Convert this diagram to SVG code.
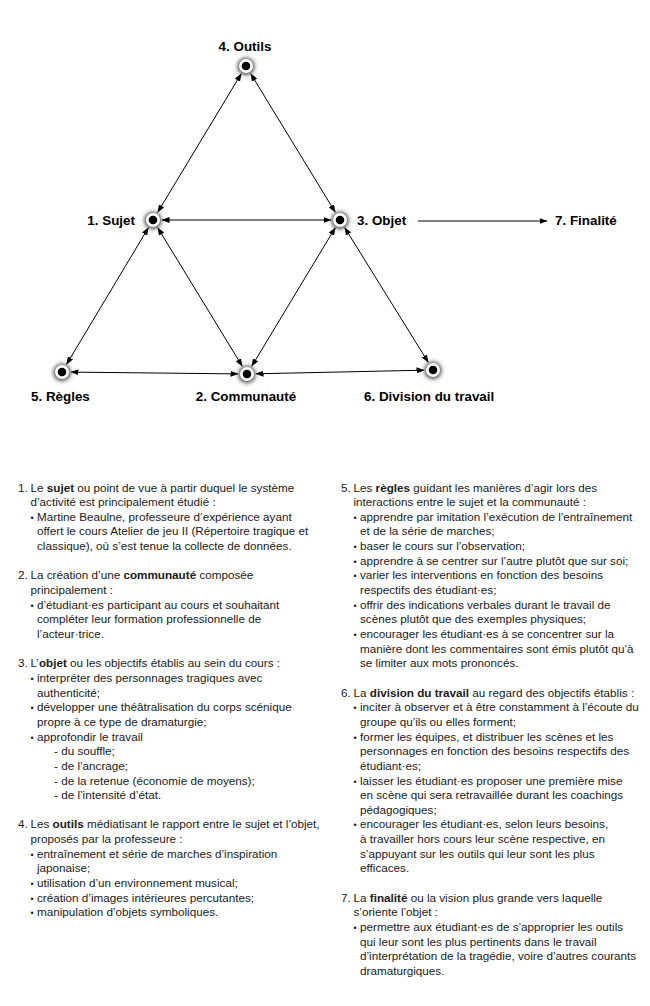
<svg xmlns="http://www.w3.org/2000/svg" width="650" height="1006" viewBox="0 0 650 1006">
<defs>
<filter id="blur" x="-1" y="-1" width="3" height="3">
<feGaussianBlur stdDeviation="2.3"/>
</filter>
<marker id="ah" markerUnits="userSpaceOnUse" markerWidth="8" markerHeight="6" refX="7.5" refY="3" orient="auto-start-reverse" viewBox="0 0 8 6">
<path d="M0,0 L8,3 L0,6 z" fill="#000"/>
</marker>
</defs>
<style>
.lbl{font-family:"Liberation Sans",Arial,sans-serif;font-weight:bold;font-size:13.4px;fill:#000}
.t{font-family:"Liberation Sans",Arial,sans-serif;font-size:11.7px;fill:#1a1a1a}
.b{font-weight:bold}
.bul{font-size:9px}
.c{stroke:#000;stroke-width:1;fill:none}
.both{marker-start:url(#ah);marker-end:url(#ah)}
.end{marker-end:url(#ah)}
.halo{fill:#444;filter:url(#blur)}
.ring{fill:#fff}
.dot{fill:#000}
</style>
<rect width="650" height="1006" fill="#fff"/>

<g id="connectors">
<line class="c both" x1="241.3" y1="73.7" x2="157.7" y2="212.3"/>
<line class="c both" x1="250.7" y1="73.7" x2="335.3" y2="212.3"/>
<line class="c both" x1="162" y1="220" x2="331" y2="220"/>
<line class="c both" x1="148.4" y1="227.7" x2="66.6" y2="364.3"/>
<line class="c both" x1="157.7" y1="227.7" x2="242.3" y2="366.3"/>
<line class="c both" x1="335.3" y1="227.7" x2="251.7" y2="366.3"/>
<line class="c both" x1="344.7" y1="227.6" x2="428.3" y2="362.4"/>
<line class="c both" x1="71" y1="372.1" x2="238" y2="373.9"/>
<line class="c both" x1="256" y1="373.8" x2="424" y2="370.2"/>
<line class="c end" x1="418" y1="221" x2="547" y2="221"/>
</g>

<g id="node-outils">
<circle class="halo" cx="246" cy="66.5" r="8.5"/><circle class="ring" cx="246" cy="66" r="7"/><circle class="dot" cx="246" cy="66" r="4.3"/>
<text class="lbl" x="245" y="51" text-anchor="middle">4. Outils</text>
</g>
<g id="node-sujet">
<circle class="halo" cx="153" cy="220.5" r="8.5"/><circle class="ring" cx="153" cy="220" r="7"/><circle class="dot" cx="153" cy="220" r="4.3"/>
<text class="lbl" x="135" y="224.5" text-anchor="end">1. Sujet</text>
</g>
<g id="node-objet">
<circle class="halo" cx="340" cy="220.5" r="8.5"/><circle class="ring" cx="340" cy="220" r="7"/><circle class="dot" cx="340" cy="220" r="4.3"/>
<text class="lbl" x="357" y="224.5">3. Objet</text>
</g>
<g id="node-finalite">
<text class="lbl" x="555" y="224.5">7. Finalité</text>
</g>
<g id="node-regles">
<circle class="halo" cx="62" cy="372.5" r="8.5"/><circle class="ring" cx="62" cy="372" r="7"/><circle class="dot" cx="62" cy="372" r="4.3"/>
<text class="lbl" x="31" y="401">5. Règles</text>
</g>
<g id="node-communaute">
<circle class="halo" cx="247" cy="374.5" r="8.5"/><circle class="ring" cx="247" cy="374" r="7"/><circle class="dot" cx="247" cy="374" r="4.3"/>
<text class="lbl" x="246" y="401" text-anchor="middle">2. Communauté</text>
</g>
<g id="node-division">
<circle class="halo" cx="433" cy="370.5" r="8.5"/><circle class="ring" cx="433" cy="370" r="7"/><circle class="dot" cx="433" cy="370" r="4.3"/>
<text class="lbl" x="364" y="401">6. Division du travail</text>
</g>

<g id="text-left" class="t">
<text x="18" y="491.5">1.</text>
<text x="30.5" y="491.5">Le <tspan class="b">sujet</tspan> ou point de vue à partir duquel le système</text>
<text x="30.5" y="506.15">d’activité est principalement étudié :</text>
<text x="30.5" y="520.8"><tspan class="bul">•</tspan></text>
<text x="37" y="520.8">Martine Beaulne, professeure d’expérience ayant</text>
<text x="37" y="535.45">offert le cours Atelier de jeu II (Répertoire tragique et</text>
<text x="37" y="550.1">classique), où s’est tenue la collecte de données.</text>

<text x="18" y="579.4">2.</text>
<text x="30.5" y="579.4">La création d’une <tspan class="b">communauté</tspan> composée</text>
<text x="30.5" y="594.05">principalement :</text>
<text x="30.5" y="608.7"><tspan class="bul">•</tspan></text>
<text x="37" y="608.7">d’étudiant·es participant au cours et souhaitant</text>
<text x="37" y="623.35">compléter leur formation professionnelle de</text>
<text x="37" y="638">l’acteur·trice.</text>

<text x="18" y="667.3">3.</text>
<text x="30.5" y="667.3">L’<tspan class="b">objet</tspan> ou les objectifs établis au sein du cours :</text>
<text x="30.5" y="681.95"><tspan class="bul">•</tspan></text>
<text x="37" y="681.95">interpréter des personnages tragiques avec</text>
<text x="37" y="696.6">authenticité;</text>
<text x="30.5" y="711.25"><tspan class="bul">•</tspan></text>
<text x="37" y="711.25">développer une théâtralisation du corps scénique</text>
<text x="37" y="725.9">propre à ce type de dramaturgie;</text>
<text x="30.5" y="740.55"><tspan class="bul">•</tspan></text>
<text x="37" y="740.55">approfondir le travail</text>
<text x="54" y="755.2">- du souffle;</text>
<text x="54" y="769.85">- de l’ancrage;</text>
<text x="54" y="784.5">- de la retenue (économie de moyens);</text>
<text x="54" y="799.15">- de l’intensité d’état.</text>

<text x="18" y="828.45">4.</text>
<text x="30.5" y="828.45">Les <tspan class="b">outils</tspan> médiatisant le rapport entre le sujet et l’objet,</text>
<text x="30.5" y="843.1">proposés par la professeure :</text>
<text x="30.5" y="857.75"><tspan class="bul">•</tspan></text>
<text x="37" y="857.75">entraînement et série de marches d’inspiration</text>
<text x="37" y="872.4">japonaise;</text>
<text x="30.5" y="887.05"><tspan class="bul">•</tspan></text>
<text x="37" y="887.05">utilisation d’un environnement musical;</text>
<text x="30.5" y="901.7"><tspan class="bul">•</tspan></text>
<text x="37" y="901.7">création d’images intérieures percutantes;</text>
<text x="30.5" y="916.35"><tspan class="bul">•</tspan></text>
<text x="37" y="916.35">manipulation d’objets symboliques.</text>
</g>

<g id="text-right" class="t">
<text x="341" y="491.5">5.</text>
<text x="353.5" y="491.5">Les <tspan class="b">règles</tspan> guidant les manières d’agir lors des</text>
<text x="353.5" y="506.15">interactions entre le sujet et la communauté :</text>
<text x="353.5" y="520.8"><tspan class="bul">•</tspan></text>
<text x="360" y="520.8">apprendre par imitation l’exécution de l’entraînement</text>
<text x="360" y="535.45">et de la série de marches;</text>
<text x="353.5" y="550.1"><tspan class="bul">•</tspan></text>
<text x="360" y="550.1">baser le cours sur l’observation;</text>
<text x="353.5" y="564.75"><tspan class="bul">•</tspan></text>
<text x="360" y="564.75">apprendre à se centrer sur l’autre plutôt que sur soi;</text>
<text x="353.5" y="579.4"><tspan class="bul">•</tspan></text>
<text x="360" y="579.4">varier les interventions en fonction des besoins</text>
<text x="360" y="594.05">respectifs des étudiant·es;</text>
<text x="353.5" y="608.7"><tspan class="bul">•</tspan></text>
<text x="360" y="608.7">offrir des indications verbales durant le travail de</text>
<text x="360" y="623.35">scènes plutôt que des exemples physiques;</text>
<text x="353.5" y="638"><tspan class="bul">•</tspan></text>
<text x="360" y="638">encourager les étudiant·es à se concentrer sur la</text>
<text x="360" y="652.65">manière dont les commentaires sont émis plutôt qu’à</text>
<text x="360" y="667.3">se limiter aux mots prononcés.</text>

<text x="341" y="696.6">6.</text>
<text x="353.5" y="696.6">La <tspan class="b">division du travail</tspan> au regard des objectifs établis :</text>
<text x="353.5" y="711.25"><tspan class="bul">•</tspan></text>
<text x="360" y="711.25">inciter à observer et à être constamment à l’écoute du</text>
<text x="360" y="725.9">groupe qu’ils ou elles forment;</text>
<text x="353.5" y="740.55"><tspan class="bul">•</tspan></text>
<text x="360" y="740.55">former les équipes, et distribuer les scènes et les</text>
<text x="360" y="755.2">personnages en fonction des besoins respectifs des</text>
<text x="360" y="769.85">étudiant·es;</text>
<text x="353.5" y="784.5"><tspan class="bul">•</tspan></text>
<text x="360" y="784.5">laisser les étudiant·es proposer une première mise</text>
<text x="360" y="799.15">en scène qui sera retravaillée durant les coachings</text>
<text x="360" y="813.8">pédagogiques;</text>
<text x="353.5" y="828.45"><tspan class="bul">•</tspan></text>
<text x="360" y="828.45">encourager les étudiant·es, selon leurs besoins,</text>
<text x="360" y="843.1">à travailler hors cours leur scène respective, en</text>
<text x="360" y="857.75">s’appuyant sur les outils qui leur sont les plus</text>
<text x="360" y="872.4">efficaces.</text>

<text x="341" y="901.7">7.</text>
<text x="353.5" y="901.7">La <tspan class="b">finalité</tspan> ou la vision plus grande vers laquelle</text>
<text x="353.5" y="916.35">s’oriente l’objet :</text>
<text x="353.5" y="931"><tspan class="bul">•</tspan></text>
<text x="360" y="931">permettre aux étudiant·es de s’approprier les outils</text>
<text x="360" y="945.65">qui leur sont les plus pertinents dans le travail</text>
<text x="360" y="960.3">d’interprétation de la tragédie, voire d’autres courants</text>
<text x="360" y="974.95">dramaturgiques.</text>
</g>
</svg>
